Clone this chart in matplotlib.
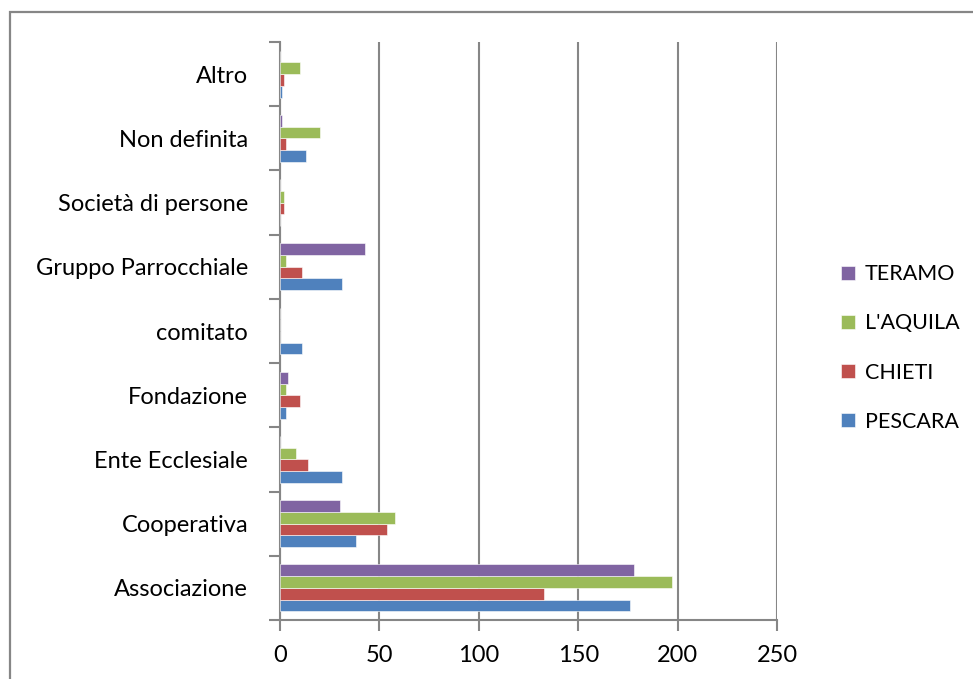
import matplotlib
matplotlib.use("Agg")
import matplotlib.pyplot as plt
from matplotlib.patches import Rectangle
import numpy as np

plt.rcParams['font.family'] = ['Lato', 'DejaVu Sans']

categories = ["Associazione", "Cooperativa", "Ente Ecclesiale", "Fondazione",
              "comitato", "Gruppo Parrocchiale", "Società di persone",
              "Non definita", "Altro"]
series_names = ["PESCARA", "CHIETI", "L'AQUILA", "TERAMO"]
pescara = [176, 38, 31, 3, 11, 31, 0, 13, 1]
chieti = [133, 54, 14, 10, 0, 11, 2, 3, 2]
laquila = [197, 58, 8, 3, 0, 3, 2, 20, 10]
teramo = [178, 30, 0, 4, 0, 43, 0, 1, 0]
xticks = [0, 50, 100, 150, 200, 250]

colors = ["#4F81BD", "#C0504D", "#9BBB59", "#8064A2"]
grid_color = "#868686"
fs = 17

fig = plt.figure(figsize=(9.73, 6.79), dpi=100)
ax = fig.add_axes([280 / 973, 1 - 620 / 679, (777 - 280) / 973, (620 - 42) / 679])

# chart area frame (only top and left edges fall inside the figure)
fig.patches.append(Rectangle((9.5 / 973, -0.2), 1.2, 1.2 - 12.5 / 679,
                             transform=fig.transFigure, fill=False,
                             edgecolor=grid_color, linewidth=1.6, zorder=0))

values = [pescara, chieti, laquila, teramo]
y = np.arange(len(categories))
group = 0.73
h = group / 4
for i, (vals, c, name) in enumerate(zip(values, colors, series_names)):
    offs = -group / 2 + h * (i + 0.5)
    ax.barh(y + offs, vals, height=h, color=c, edgecolor="white",
            linewidth=0.4, label=name, zorder=3)

ax.set_xlim(0, 250)
ax.set_ylim(-0.5, len(categories) - 0.5)
ax.set_xticks(xticks)
ax.set_xticklabels([str(t) for t in xticks], fontsize=fs)
ax.set_yticks(y)
ax.set_yticklabels(categories, fontsize=fs)
ax.set_yticks(np.arange(-0.5, len(categories)), minor=True)
ax.tick_params(axis='y', which='major', length=0, pad=23)
ax.tick_params(axis='y', which='minor', length=8, width=1.5, color=grid_color, direction='out')
ax.tick_params(axis='x', which='major', length=8, width=1.5, color=grid_color, direction='out', pad=10)

ax.grid(axis='x', color=grid_color, linewidth=1.5, zorder=0)
ax.set_axisbelow(True)
for s in ['top', 'right']:
    ax.spines[s].set_visible(False)
for s in ['left', 'bottom']:
    ax.spines[s].set_color(grid_color)
    ax.spines[s].set_linewidth(1.5)

handles, labels = ax.get_legend_handles_labels()
leg = fig.legend(handles[::-1], labels[::-1], loc='center left',
                 bbox_to_anchor=(822 / 973, 1 - 348 / 679), frameon=False,
                 fontsize=15.5, handlelength=0.65, handleheight=0.65,
                 handletextpad=0.45, labelspacing=1.35)

fig.savefig("out.png", dpi=100)
